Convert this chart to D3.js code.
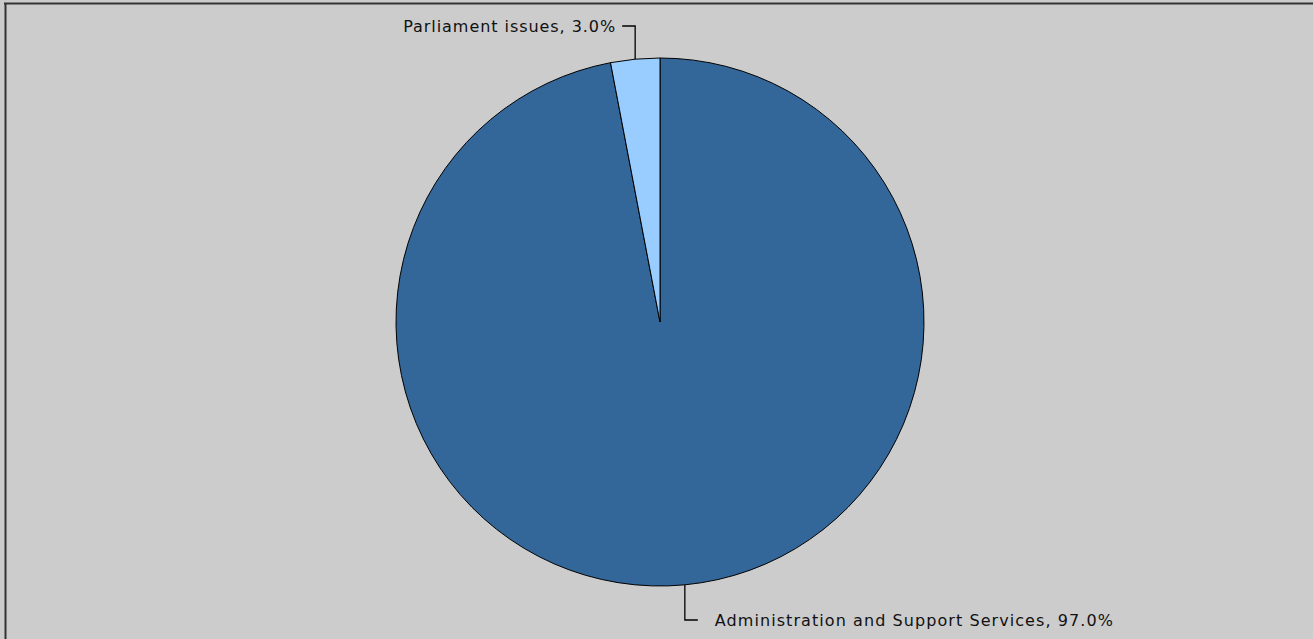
<!DOCTYPE html>
<html><head><meta charset="utf-8">
<script src="https://cdn.jsdelivr.net/npm/d3@7/dist/d3.min.js"></script>
<style>html,body{margin:0;padding:0;background:#cccccc;overflow:hidden}</style>
</head><body>
<svg id="chart" width="1313" height="639"></svg>
<script>
const categories = ["Administration and Support Services", "Parliament issues"];
const values = [97.0, 3.0];
const colors = ["#336699", "#99ccff"];

const W = 1313, H = 639;
const svg = d3.select("#chart");
svg.append("rect").attr("width", W).attr("height", H).attr("fill", "#cccccc");
// frame lines
svg.append("line").attr("x1", 4).attr("x2", W).attr("y1", 3.5).attr("y2", 3.5).attr("stroke", "#333").attr("stroke-width", 2);
svg.append("line").attr("x1", 5.5).attr("x2", 5.5).attr("y1", 3).attr("y2", H).attr("stroke", "#333").attr("stroke-width", 2);

const cx = 660, cy = 322, r = 264;
const data = categories.map((c, i) => ({name: c, value: values[i], color: colors[i]}));
const pie = d3.pie().sort(null).value(d => d.value);
const arcs = pie(data);
const arc = d3.arc().innerRadius(0).outerRadius(r);
const g = svg.append("g").attr("transform", `translate(${cx},${cy})`);
g.selectAll("path").data(arcs).join("path")
  .attr("d", arc).attr("fill", d => d.data.color)
  .attr("stroke", "#000").attr("stroke-width", 1);

const total = d3.sum(values);
const font = "DejaVu Sans, sans-serif";
arcs.forEach(a => {
  const mid = (a.startAngle + a.endAngle) / 2;
  const px = Math.sin(mid) * r, py = -Math.cos(mid) * r;
  const top = py < 0;
  const ly = top ? -296 : 298;
  const hx = top ? px - 13 : px + 13;
  g.append("polyline")
    .attr("points", `${px},${py} ${px},${ly} ${hx},${ly}`)
    .attr("fill", "none").attr("stroke", "#000").attr("stroke-width", 1.3);
  const label = `${a.data.name}, ${(a.data.value / total * 100).toFixed(1)}%`;
  const t = g.append("text")
    .attr("x", top ? hx - 7 : hx + 17)
    .attr("y", ly + 6)
    .attr("text-anchor", top ? "end" : "start")
    .attr("font-family", font).attr("font-size", 16).attr("fill", "#111")
    .text(label);
  t.attr("textLength", top ? 212 : 398).attr("lengthAdjust", "spacing");
});
</script>
</body></html>
